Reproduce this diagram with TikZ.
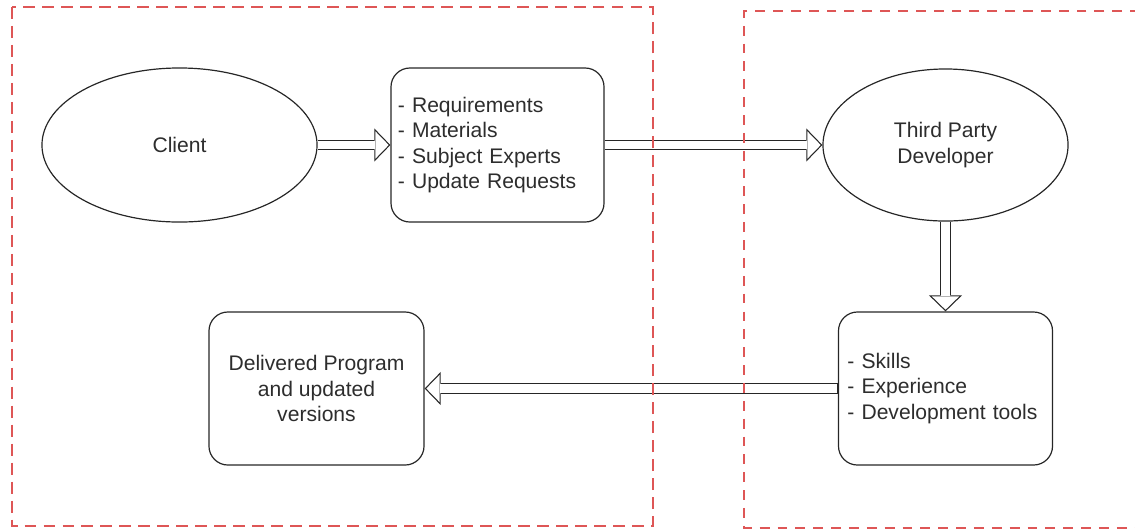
\documentclass[tikz,border=0pt]{standalone}
\usepackage{fontspec}
\setmainfont{Liberation Sans}
\usepackage{xcolor}
\usetikzlibrary{arrows.meta}
\usetikzlibrary{shapes}

\definecolor{rahmenrot}{RGB}{222,86,86}
\definecolor{schrift}{RGB}{45,45,45}

\tikzset{
    knoten/.style={draw=black!85, line width=0.85pt, text=schrift, inner sep=0pt,
        font=\fontsize{15}{18.1}\selectfont},
    oval/.style={knoten, ellipse, align=center},
    kasten/.style={knoten, rectangle, rounded corners=13.5pt},
    hohlpfeil/.style={draw=black!85, line width=7.8pt,
        -{Triangle[length=11.4pt, width=23.5pt, line width=0pt]},
        postaction={draw=white, line width=6.1pt, shorten <=0.6pt, shorten >=1.2pt,
            -{Triangle[length=9.4pt, width=19.3pt, line width=0pt]}}},
    bereich/.style={draw=rahmenrot, line width=1.4pt, dash pattern=on 8.5pt off 5pt},
    bereichzwei/.style={draw=rahmenrot, line width=1.1pt, dash pattern=on 7pt off 5.7pt}
}

\begin{document}
\begin{tikzpicture}[x=0.025cm, y=-0.025cm]
        \useasboundingbox (0, 0) rectangle (1135, 529);
        \clip (0, 0) rectangle (1135, 529);
        % Knoten
        \node[oval, minimum width=6.875cm, minimum height=3.85cm] (client) at (179.5, 145) {Client};
        \node[kasten, minimum width=5.325cm, minimum height=3.85cm, text width=4.975cm, align=left]
            (anforderungen) at (497.5, 145)
            {- Requirements\\- Materials\\- Subject Experts\\- Update Requests};
        \node[oval, minimum width=6.125cm, minimum height=3.8cm] (entwickler) at (945.5, 145)
            {Third Party\\Developer};
        \node[kasten, minimum width=5.35cm, minimum height=3.825cm, text width=4.9cm, align=left]
            (faehigkeiten) at (945.5, 388.5)
            {- Skills\\- Experience\\- Development tools};
        \node[kasten, minimum width=5.375cm, minimum height=3.825cm, align=center]
            (ergebnis) at (316.5, 388.5)
            {Delivered Program\\and updated\\versions};
        % Pfeile
        \draw[hohlpfeil] (client.east) -- (anforderungen.west);
        \draw[hohlpfeil] (anforderungen.east) -- (entwickler.west);
        \draw[hohlpfeil] (entwickler.south) -- (faehigkeiten.north);
        \draw[hohlpfeil] (faehigkeiten.west) -- (ergebnis.east);
        % Bereiche
        \draw[bereich] (12, 7) rectangle (653, 526);
        \draw[bereichzwei] (1140, 11) -- (744, 11) -- (744, 528) -- (1140, 528);
\end{tikzpicture}
\end{document}
